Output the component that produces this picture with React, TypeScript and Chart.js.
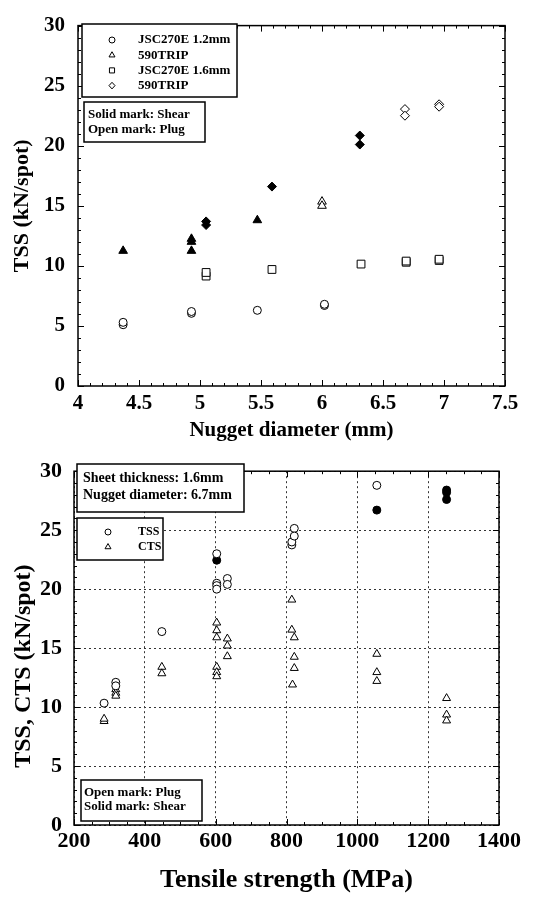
import React, { useEffect, useRef } from 'react';
import { Chart, registerables } from 'chart.js';
Chart.register(...registerables);

const FONT = "'Liberation Serif', 'Times New Roman', serif";

// ---------- Top chart data (Nugget diameter vs TSS) ----------
const jsc12X = [4.37, 4.37, 4.93, 4.93, 5.47, 6.02, 6.02];
const jsc12Y = [5.1, 5.3, 6.05, 6.2, 6.3, 6.7, 6.8];
const tripTriShearX = [4.37, 4.93, 4.93, 4.93, 5.47];
const tripTriShearY = [11.25, 12.25, 12.0, 11.25, 13.8];
const tripTriPlugX = [6.0, 6.0];
const tripTriPlugY = [15.35, 15.0];
const jsc16X = [5.05, 5.05, 5.59, 6.32, 6.69, 6.69, 6.96, 6.96];
const jsc16Y = [9.15, 9.45, 9.7, 10.15, 10.3, 10.4, 10.45, 10.55];
const tripDiaShearX = [5.05, 5.05, 5.59, 6.31, 6.31];
const tripDiaShearY = [13.4, 13.7, 16.6, 20.85, 20.1];
const tripDiaPlugX = [6.68, 6.68, 6.96, 6.96];
const tripDiaPlugY = [23.05, 22.5, 23.45, 23.25];

const topLegendLabels = ['JSC270E 1.2mm', '590TRIP', 'JSC270E 1.6mm', '590TRIP'];
const topLegendMarkers = ['circle', 'triangle', 'rect', 'diamond'];
const topNoteLines = ['Solid mark: Shear', 'Open mark: Plug'];

// ---------- Bottom chart data (Tensile strength vs TSS/CTS) ----------
const tssPlugX = [285, 318, 318, 448, 603, 603, 603, 603, 633, 633, 815, 815, 822, 822, 1055];
const tssPlugY = [10.33, 12.1, 11.8, 16.4, 23.0, 20.5, 20.3, 20.0, 20.9, 20.4, 23.75, 24.0, 25.15, 24.5, 28.8];
const tssShearX = [603, 1055, 1252, 1252, 1252];
const tssShearY = [22.45, 26.7, 28.4, 28.2, 27.6];
const ctsPlugX = [285, 285, 318, 318, 318, 448, 448, 603, 603, 603, 603, 603, 603, 633, 633, 633, 815, 815, 822, 822, 822, 817, 1055, 1055, 1055, 1252, 1252, 1252];
const ctsPlugY = [8.8, 9.0, 11.5, 11.2, 10.95, 13.4, 12.85, 17.15, 16.5, 15.9, 13.4, 12.95, 12.6, 15.8, 15.2, 14.3, 19.1, 16.55, 15.9, 14.25, 13.3, 11.9, 14.5, 12.95, 12.2, 10.75, 9.35, 8.85];

const bottomInfoLines = ['Sheet thickness: 1.6mm', 'Nugget diameter: 6.7mm'];
const bottomLegendLabels = ['TSS', 'CTS'];
const bottomLegendMarkers = ['circle', 'triangle'];
const bottomNoteLines = ['Open mark: Plug', 'Solid mark: Shear'];

const zip = (xs: number[], ys: number[]) => xs.map((x, i) => ({ x, y: ys[i] }));

function ds(label: string, xs: number[], ys: number[], style: string, r: number, solid: boolean) {
  return {
    label,
    data: zip(xs, ys),
    pointStyle: style,
    pointRadius: r,
    pointHoverRadius: r,
    pointBorderWidth: 1,
    pointBorderColor: '#000',
    pointBackgroundColor: solid ? '#000' : '#fff',
    showLine: false,
  };
}

function drawMarker(ctx: CanvasRenderingContext2D, kind: string, x: number, y: number, r: number) {
  ctx.save();
  ctx.strokeStyle = '#000';
  ctx.fillStyle = '#fff';
  ctx.lineWidth = 1;
  ctx.beginPath();
  if (kind === 'circle') {
    ctx.arc(x, y, r, 0, Math.PI * 2);
  } else if (kind === 'triangle') {
    const rr = r * 1.15;
    ctx.moveTo(x, y - rr);
    ctx.lineTo(x + rr * 0.866, y + rr * 0.5);
    ctx.lineTo(x - rr * 0.866, y + rr * 0.5);
    ctx.closePath();
  } else if (kind === 'rect') {
    ctx.rect(x - r * 0.85, y - r * 0.85, r * 1.7, r * 1.7);
  } else if (kind === 'diamond') {
    ctx.moveTo(x, y - r * 1.1);
    ctx.lineTo(x + r, y);
    ctx.lineTo(x, y + r * 1.1);
    ctx.lineTo(x - r, y);
    ctx.closePath();
  }
  ctx.fill();
  ctx.stroke();
  ctx.restore();
}

const frameTicks = {
  id: 'frameTicks',
  beforeDatasetsDraw(chart: any, _a: any, opts: any) {
    const { ctx, chartArea } = chart;
    const { left, right, top, bottom } = chartArea;
    const xs = chart.scales.x;
    const ys = chart.scales.y;
    ctx.save();
    ctx.strokeStyle = '#000';
    ctx.lineWidth = 1;
    const line = (x1: number, y1: number, x2: number, y2: number) => {
      ctx.beginPath();
      ctx.moveTo(x1, y1);
      ctx.lineTo(x2, y2);
      ctx.stroke();
    };
    const nx = Math.round((xs.max - xs.min) / opts.xMinor);
    for (let i = 0; i <= nx; i++) {
      const v = xs.min + i * opts.xMinor;
      const len = i % opts.xPer === 0 ? opts.major : opts.minor;
      const px = Math.round(xs.getPixelForValue(v)) + 0.5;
      line(px, bottom, px, bottom - len);
      line(px, top, px, top + len);
    }
    const ny = Math.round((ys.max - ys.min) / opts.yMinor);
    for (let i = 0; i <= ny; i++) {
      const v = ys.min + i * opts.yMinor;
      const len = i % opts.yPer === 0 ? opts.major : opts.minor;
      const py = Math.round(ys.getPixelForValue(v)) + 0.5;
      line(left, py, left + len, py);
      line(right, py, right - len, py);
    }
    ctx.lineWidth = 1.5;
    ctx.strokeRect(left, top, right - left, bottom - top);
    ctx.restore();
  },
};

const notes = {
  id: 'notes',
  afterDatasetsDraw(chart: any, _a: any, opts: any) {
    const ctx = chart.ctx;
    ctx.save();
    for (const b of opts.boxes || []) {
      ctx.fillStyle = '#fff';
      ctx.fillRect(b.x, b.y, b.w, b.h);
      ctx.strokeStyle = '#000';
      ctx.lineWidth = 1.5;
      ctx.strokeRect(b.x, b.y, b.w, b.h);
      ctx.font = `bold ${b.size}px ${FONT}`;
      ctx.textBaseline = 'middle';
      ctx.textAlign = 'left';
      b.lines.forEach((t: string, i: number) => {
        const ty = b.y + b.firstRow + i * b.rowGap;
        ctx.fillStyle = '#000';
        ctx.fillText(t, b.tx, ty);
        if (b.markers) drawMarker(ctx, b.markers[i], b.mx, ty, b.mr);
      });
    }
    ctx.restore();
  },
};

const tickFont = (size: number) => ({ family: FONT, size, weight: 'bold' as const });
const plainLabel = (v: any) => String(v);

function TopChart() {
  const ref = useRef<HTMLCanvasElement>(null);
  useEffect(() => {
    const chart = new Chart(ref.current!, {
      type: 'scatter',
      data: {
        datasets: [
          ds('JSC270E 1.2mm', jsc12X, jsc12Y, 'circle', 4, false),
          ds('JSC270E 1.6mm', jsc16X, jsc16Y, 'rect', 5.5, false),
          ds('590TRIP (shear)', tripTriShearX, tripTriShearY, 'triangle', 5, true),
          ds('590TRIP (plug)', tripTriPlugX, tripTriPlugY, 'triangle', 5, false),
          ds('590TRIP', tripDiaShearX, tripDiaShearY, 'rectRot', 4.5, true),
          ds('590TRIP', tripDiaPlugX, tripDiaPlugY, 'rectRot', 4.5, false),
        ] as any,
      },
      options: {
        animation: false,
        responsive: false,
        devicePixelRatio: 1,
        layout: { padding: { top: 17, right: 30, bottom: 0, left: 0 } },
        plugins: {
          legend: { display: false },
          tooltip: { enabled: false },
          frameTicks: { xMinor: 0.1, xPer: 5, yMinor: 1, yPer: 5, major: 6, minor: 3 },
          notes: {
            boxes: [
              { x: 82, y: 24, w: 155, h: 73, size: 13, tx: 138, firstRow: 16, rowGap: 15.2, lines: topLegendLabels, markers: topLegendMarkers, mx: 112, mr: 3 },
              { x: 84, y: 102, w: 121, h: 40, size: 13, tx: 88, firstRow: 13, rowGap: 15, lines: topNoteLines },
            ],
          },
        } as any,
        scales: {
          x: {
            type: 'linear',
            min: 4,
            max: 7.5,
            grid: { display: false, drawTicks: false },
            border: { display: false },
            ticks: { stepSize: 0.5, font: tickFont(21), color: '#000', padding: 5, maxRotation: 0, autoSkip: false, callback: plainLabel },
            title: { display: true, text: 'Nugget diameter (mm)', font: tickFont(21), color: '#000', padding: { top: 0, bottom: 3 } },
            afterFit: (s: any) => { s.height = 60; },
          },
          y: {
            type: 'linear',
            min: 0,
            max: 30,
            grid: { display: false, drawTicks: false },
            border: { display: false },
            ticks: { stepSize: 5, font: tickFont(21), color: '#000', padding: 13, callback: plainLabel },
            title: { display: true, text: 'TSS (kN/spot)', font: tickFont(22), color: '#000', padding: { top: 9, bottom: 0 } },
            afterFit: (s: any) => { s.width = 78; },
          },
        } as any,
      },
      plugins: [frameTicks, notes],
    });
    return () => chart.destroy();
  }, []);
  return <canvas ref={ref} width={535} height={446} style={{ display: 'block' }} />;
}

function BottomChart() {
  const ref = useRef<HTMLCanvasElement>(null);
  useEffect(() => {
    const chart = new Chart(ref.current!, {
      type: 'scatter',
      data: {
        datasets: [
          ds('TSS (plug)', tssPlugX, tssPlugY, 'circle', 4, false),
          ds('TSS (shear)', tssShearX, tssShearY, 'circle', 4, true),
          ds('CTS (plug)', ctsPlugX, ctsPlugY, 'triangle', 4.6, false),
        ] as any,
      },
      options: {
        animation: false,
        responsive: false,
        devicePixelRatio: 1,
        layout: { padding: { top: 13, right: 36, bottom: 0, left: 0 } },
        plugins: {
          legend: { display: false },
          tooltip: { enabled: false },
          frameTicks: { xMinor: 50, xPer: 4, yMinor: 1, yPer: 5, major: 6, minor: 3 },
          notes: {
            boxes: [
              { x: 77, y: 18, w: 167, h: 48, size: 14, tx: 83, firstRow: 14, rowGap: 17, lines: bottomInfoLines },
              { x: 77, y: 72, w: 86, h: 42, size: 12, tx: 138, firstRow: 14, rowGap: 15, lines: bottomLegendLabels, markers: bottomLegendMarkers, mx: 108, mr: 3 },
              { x: 81, y: 334, w: 121, h: 41, size: 13, tx: 84, firstRow: 13, rowGap: 14, lines: bottomNoteLines },
            ],
          },
        } as any,
        scales: {
          x: {
            type: 'linear',
            min: 200,
            max: 1400,
            grid: { display: true, drawTicks: false, color: '#333', lineWidth: 1 },
            border: { display: false, dash: [2, 3] },
            ticks: { stepSize: 200, font: tickFont(22), color: '#000', padding: 3, maxRotation: 0, autoSkip: false, callback: plainLabel },
            title: { display: true, text: 'Tensile strength (MPa)', font: tickFont(26), color: '#000', padding: { top: 0, bottom: 2 } },
            afterFit: (s: any) => { s.height = 73; },
          },
          y: {
            type: 'linear',
            min: 0,
            max: 30,
            grid: { display: true, drawTicks: false, color: '#333', lineWidth: 1 },
            border: { display: false, dash: [2, 3] },
            ticks: { stepSize: 5, font: tickFont(22), color: '#000', padding: 12, callback: plainLabel },
            title: { display: true, text: 'TSS, CTS (kN/spot)\u00A0\u00A0\u00A0\u00A0\u00A0\u00A0', font: tickFont(24), color: '#000', padding: { top: 9, bottom: 0 } },
            afterFit: (s: any) => { s.width = 74; },
          },
        } as any,
      },
      plugins: [frameTicks, notes],
    });
    return () => chart.destroy();
  }, []);
  return <canvas ref={ref} width={535} height={452} style={{ display: 'block' }} />;
}

export default function App() {
  return (
    <div style={{ position: 'absolute', left: 0, top: 0, width: 535, height: 898, background: '#fff' }}>
      <TopChart />
      <BottomChart />
    </div>
  );
}
